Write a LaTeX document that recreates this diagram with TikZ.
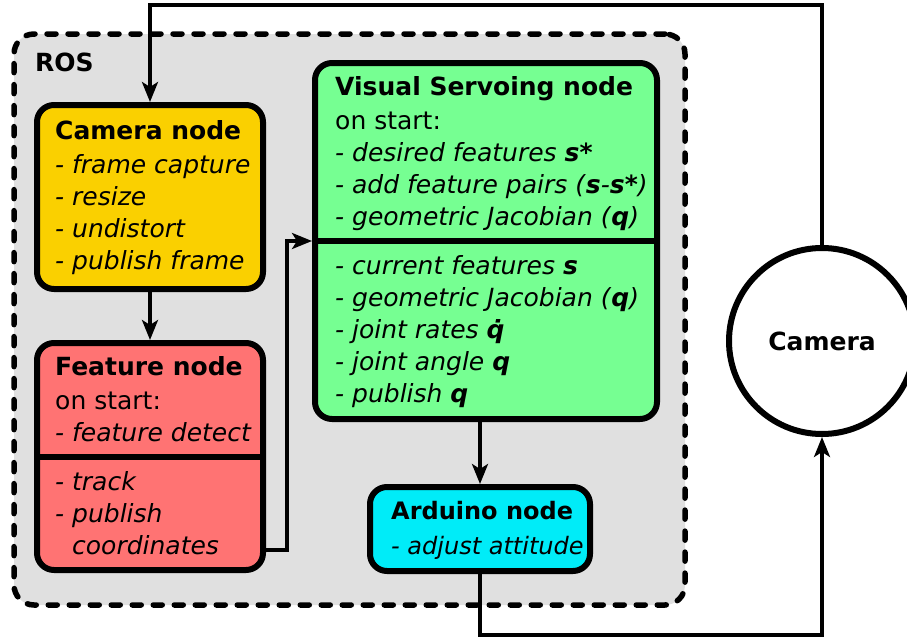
\documentclass[tikz,border=0pt]{standalone}
\usepackage{fontspec}
\setmainfont{DejaVu Sans}
\usetikzlibrary{arrows.meta}

\definecolor{camyellow}{RGB}{250,208,0}
\definecolor{featred}{RGB}{255,115,115}
\definecolor{vsgreen}{RGB}{118,255,146}
\definecolor{ardcyan}{RGB}{0,236,248}
\definecolor{rosgray}{RGB}{224,224,224}
\newcommand{\bv}[1]{\textbf{\textit{#1}}}

\begin{document}
\begin{tikzpicture}[x=1pt,y=-1pt,
    box/.style={draw,line width=6pt,rounded corners=17pt,inner sep=0pt},
    txt/.style={anchor=north west,inner sep=0pt,align=left,font=\fontsize{25}{32}\selectfont},
    conn/.style={line width=3.4pt,-{Stealth[length=20pt,width=16pt,inset=5pt]}},
    divider/.style={line width=6pt}]
   \useasboundingbox (0,0) rectangle (907,637);
   % ROS frame
   \node[draw,fill=rosgray,line width=5.5pt,dash pattern=on 9pt off 12pt,line cap=round,
     rounded corners=20pt,minimum width=671pt,minimum height=571pt] (ros) at (349.5,319.5) {};
   \node[txt] (roslbl) at (35,48.6) {\strut\textbf{ROS}};

   % boxes
   \node[box,fill=camyellow,minimum width=226pt,minimum height=184pt] (cam) at (150,197) {};
   \node[box,fill=featred,minimum width=226pt,minimum height=227pt] (feat) at (150,456.5) {};
   \node[box,fill=vsgreen,minimum width=342pt,minimum height=356pt] (vs) at (486,241) {};
   \node[box,fill=ardcyan,minimum width=220pt,minimum height=84pt] (ard) at (480,529) {};
   \node[circle,draw,fill=white,line width=6pt,minimum size=186pt,inner sep=0pt,
     font=\fontsize{25}{32}\selectfont] (camc) at (822,341) {\textbf{Camera}};

   \coordinate (featdiv) at (0,457);
   \coordinate (vsdiv) at (0,241);
   \draw[divider] (feat.west |- featdiv) -- (feat.east |- featdiv);
   \draw[divider] (vs.west |- vsdiv) -- (vs.east |- vsdiv);

   % texts
   \node[txt] (camtxt) at (55,116.6) {\strut\textbf{Camera node}\\[2pt]
     \textit{- frame capture}\\ \textit{- resize}\\ \textit{- undistort}\\ \textit{- publish frame}};
   \node[txt] (feattop) at (55,352.6) {\strut\textbf{Feature node}\\[2pt]
     on start:\\ \textit{- feature detect}};
   \node[txt] (featbot) at (55,467.6) {\strut\textit{- track}\\ \textit{- publish}\\
     \textit{\phantom{- }coordinates}};
   \node[txt] (vstop) at (335,72.6) {\strut\textbf{Visual Servoing node}\\[2pt]
     on start:\\ \textit{- desired features} \bv{s*}\\
     \textit{- add feature pairs (}\bv{s}\textit{-}\bv{s*}\textit{)}\\
     \textit{- geometric Jacobian (}\bv{q}\textit{)}};
   \node[txt] (vsbot) at (335,251.6) {\strut\textit{- current features} \bv{s}\\
     \textit{- geometric Jacobian (}\bv{q}\textit{)}\\
     \textit{- joint rates} \bv{\.q}\\
     \textit{- joint angle} \bv{q}\\
     \textit{- publish} \bv{q}};
   \node[txt,font=\fontsize{24}{32}\selectfont] (ardtxt) at (391,497) {\strut\textbf{Arduino node}\\[3pt]
     \textit{- adjust attitude}};

   % connectors
   \coordinate (looptop) at (0,5);
   \coordinate (loopbot) at (0,635);
   \coordinate (featout) at (265,550);
   \draw[conn] (camc.north) -- (camc.north |- looptop) -| (cam.north);
   \draw[conn] (cam) -- (feat);
   \draw[conn] (featout) -- ++(22,0) |- (vs.west);
   \draw[conn] (vs.south -| ard) -- (ard.north);
   \draw[conn] (ard.south) -- (ard.south |- loopbot) -| (camc.south);
\end{tikzpicture}
\end{document}
